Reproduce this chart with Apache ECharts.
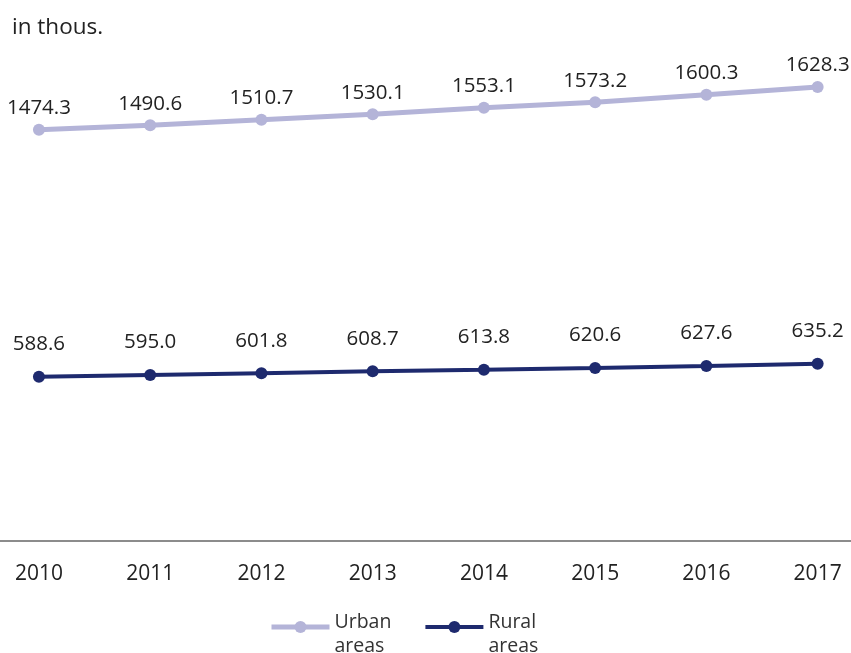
<!DOCTYPE html>
<html>
<head>
<meta charset="utf-8">
<script src="https://cdn.jsdelivr.net/npm/echarts@6/dist/echarts.min.js"></script>
<style>
  html, body { margin: 0; padding: 0; background: #fff; }
  #chart { width: 851px; height: 653px; }
</style>
</head>
<body>
<div id="chart"></div>
<script>
// Population by area type, in thousands
const years = [2010, 2011, 2012, 2013, 2014, 2015, 2016, 2017];
const urban = [1474.3, 1490.6, 1510.7, 1530.1, 1553.1, 1573.2, 1600.3, 1628.3];
const rural = [588.6, 595.0, 601.8, 608.7, 613.8, 620.6, 627.6, 635.2];
const seriesNames = ['Urban\nareas', 'Rural\nareas'];

const FONT = '"Open Sans", "Noto Sans", sans-serif';
const URBAN_COLOR = '#b4b4d8';
const RURAL_COLOR = '#1e2a6e';
const pairs = vals => years.map((y, i) => [y, vals[i]]);

const chart = echarts.init(document.getElementById('chart'), null, { renderer: 'canvas' });

chart.setOption({
  animation: false,
  backgroundColor: '#ffffff',
  title: {
    text: 'in thous.',
    left: 7,
    top: 11,
    textStyle: { fontFamily: FONT, fontSize: 22.5, fontWeight: 'normal', color: '#222' }
  },
  grid: { left: 0, right: 0, top: 39, bottom: 112, containLabel: false },
  xAxis: {
    type: 'value',
    min: 2009.65,
    max: 2017.3,
    splitLine: { show: false },
    axisTick: { show: false },
    axisLine: { show: true, lineStyle: { color: '#8c8c8c', width: 2 } },
    axisLabel: {
      customValues: years,
      formatter: v => String(v),
      margin: 23,
      fontFamily: FONT,
      fontSize: 21,
      color: '#222'
    }
  },
  yAxis: {
    type: 'value',
    min: 0,
    max: 1800,
    show: false,
    splitLine: { show: false }
  },
  legend: {
    left: 269,
    top: 612,
    padding: 0,
    itemWidth: 58,
    itemHeight: 15,
    itemGap: 32,
    // first line sits near the marker, second line hangs below it
    formatter: name => {
      const [first, second] = name.split('\n');
      return '{a|' + first + '}\n{b|' + second + '}';
    },
    textStyle: {
      fontFamily: FONT, fontSize: 19.5, color: '#333',
      rich: {
        a: { fontFamily: FONT, fontSize: 19.5, color: '#333', lineHeight: 38 },
        b: { fontFamily: FONT, fontSize: 19.5, color: '#333', lineHeight: 10 }
      }
    },
    data: [
      { name: seriesNames[0], lineStyle: { width: 5, color: URBAN_COLOR } },
      { name: seriesNames[1], lineStyle: { width: 4, color: RURAL_COLOR } }
    ]
  },
  series: [
    {
      name: seriesNames[0],
      type: 'line',
      data: pairs(urban),
      symbol: 'circle',
      symbolSize: 12,
      lineStyle: { color: URBAN_COLOR, width: 5 },
      itemStyle: { color: URBAN_COLOR },
      label: {
        show: true,
        position: 'top',
        distance: 5,
        formatter: p => p.value[1].toFixed(1),
        fontFamily: FONT,
        fontSize: 20.5,
        color: '#222'
      }
    },
    {
      name: seriesNames[1],
      type: 'line',
      data: pairs(rural),
      symbol: 'circle',
      symbolSize: 12,
      lineStyle: { color: RURAL_COLOR, width: 4 },
      itemStyle: { color: RURAL_COLOR },
      label: {
        show: true,
        position: 'top',
        distance: 16,
        formatter: p => p.value[1].toFixed(1),
        fontFamily: FONT,
        fontSize: 20.5,
        color: '#222'
      }
    }
  ]
});
</script>
</body>
</html>
